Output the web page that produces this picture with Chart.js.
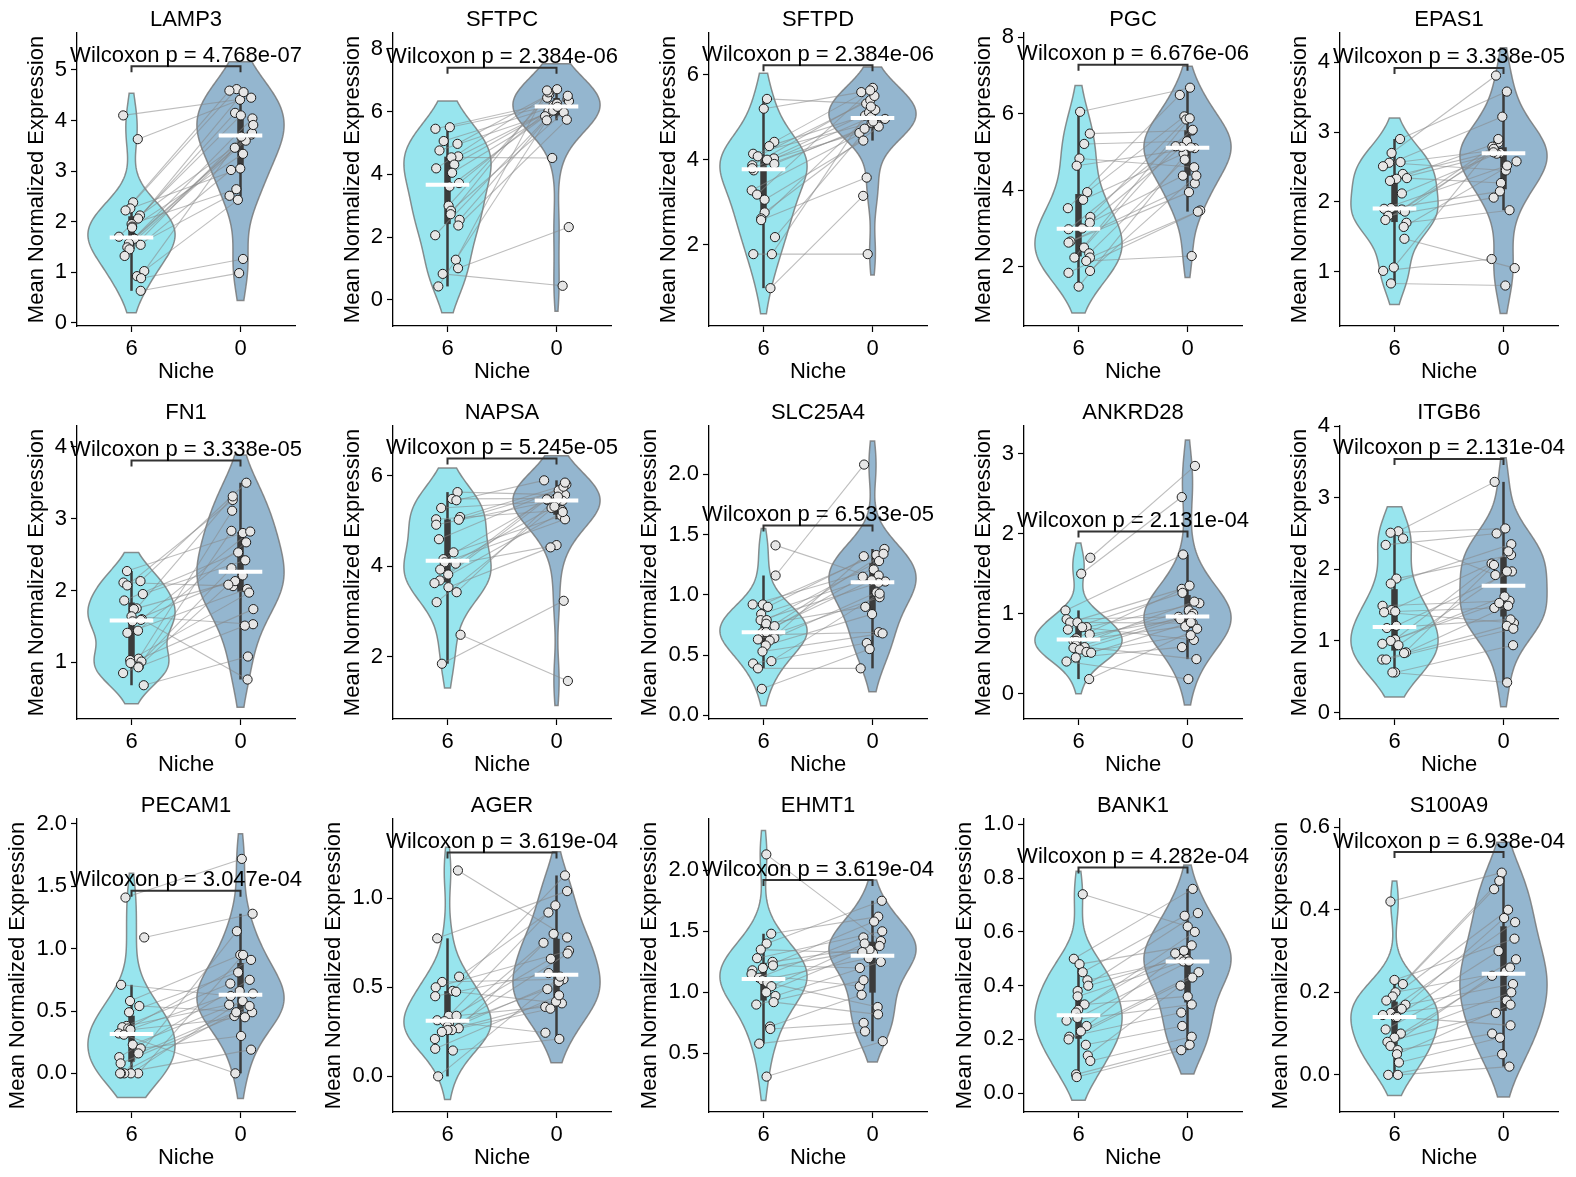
<!DOCTYPE html>
<html>
<head>
<meta charset="utf-8">
<script src="https://cdn.jsdelivr.net/npm/chart.js@4.4.0/dist/chart.umd.min.js"></script>
<style>
  body { margin: 0; background: #fff; width: 1576px; height: 1177px; position: relative; overflow: hidden; }
  canvas { position: absolute; }
</style>
</head>
<body>
<script>
// gene panels, left to right, top to bottom
const genes = ['LAMP3', 'SFTPC', 'SFTPD', 'PGC', 'EPAS1',
               'FN1', 'NAPSA', 'SLC25A4', 'ANKRD28', 'ITGB6',
               'PECAM1', 'AGER', 'EHMT1', 'BANK1', 'S100A9'];
const niches = ['6', '0'];
const pValues = [4.768e-07, 2.384e-06, 2.384e-06, 6.676e-06, 3.338e-05,
                 3.338e-05, 5.245e-05, 6.533e-05, 2.131e-04, 2.131e-04,
                 3.047e-04, 3.619e-04, 3.619e-04, 4.282e-04, 6.938e-04];
// height of the significance bracket
const bracketAt = [5.07, 7.39, 6.22, 7.28, 3.92,
                   3.81, 6.38, 1.575, 2.03, 3.54,
                   1.465, 1.257, 1.92, 0.84, 0.54];
// y axis range and tick step per panel
const yMin = [-0.066, -0.83, 0.09, 0.45, 0.22, 0.21, 0.63, -0.03, -0.32, -0.09, -0.31, -0.20, 0.02, -0.07, -0.09];
const yMax = [5.73, 8.5, 6.98, 8.11, 4.42, 4.29, 7.10, 2.40, 3.35, 4.0, 2.04, 1.445, 2.42, 1.02, 0.62];
const yStep = [1, 2, 2, 2, 1, 1, 2, 0.5, 1, 1, 0.5, 0.5, 0.5, 0.2, 0.2];

// niche 6 values (sample i is paired with sample i of niche 0)
const niche6 = [
  [4.10, 3.63, 2.38, 2.26, 2.22, 2.12, 2.06, 1.95, 1.90, 1.88, 1.70, 1.67, 1.66, 1.57, 1.54, 1.49, 1.45, 1.32, 1.02, 0.92, 0.88, 0.63], // LAMP3
  [5.50, 5.45, 5.06, 4.97, 4.76, 4.57, 4.54, 4.31, 4.19, 4.05, 3.72, 3.61, 3.00, 2.84, 2.73, 2.55, 2.37, 2.06, 1.28, 1.01, 0.83, 0.43], // SFTPC
  [5.43, 5.20, 4.42, 4.32, 4.14, 4.08, 4.03, 4.00, 3.90, 3.87, 3.75, 3.80, 3.28, 3.18, 3.06, 2.76, 2.62, 2.58, 2.18, 1.78, 1.78, 0.98], // SFTPD
  [6.05, 5.48, 5.21, 4.83, 4.64, 3.95, 3.75, 3.53, 3.30, 3.15, 3.00, 2.98, 2.66, 2.63, 2.50, 2.35, 2.24, 2.24, 2.15, 1.89, 1.84, 1.48], // PGC
  [2.90, 2.70, 2.57, 2.56, 2.51, 2.40, 2.34, 2.33, 2.30, 2.12, 1.91, 1.89, 1.90, 1.86, 1.80, 1.74, 1.70, 1.64, 1.47, 1.06, 1.01, 0.83], // EPAS1
  [2.27, 2.13, 2.11, 2.07, 1.95, 1.86, 1.75, 1.74, 1.64, 1.60, 1.59, 1.57, 1.44, 1.41, 1.05, 1.03, 1.01, 0.99, 0.94, 0.93, 0.85, 0.68], // FN1
  [5.64, 5.49, 5.46, 5.29, 5.09, 5.04, 5.03, 4.92, 4.60, 4.31, 4.16, 4.09, 4.06, 3.93, 3.82, 3.69, 3.63, 3.54, 3.43, 3.21, 2.49, 1.85], // NAPSA
  [1.41, 1.16, 0.92, 0.92, 0.90, 0.84, 0.79, 0.79, 0.76, 0.74, 0.69, 0.67, 0.69, 0.64, 0.63, 0.62, 0.58, 0.53, 0.45, 0.43, 0.39, 0.22], // SLC25A4
  [1.70, 1.50, 1.04, 0.93, 0.89, 0.89, 0.83, 0.83, 0.80, 0.74, 0.69, 0.66, 0.66, 0.60, 0.58, 0.57, 0.55, 0.52, 0.51, 0.45, 0.40, 0.18], // ANKRD28
  [2.53, 2.51, 2.43, 2.34, 1.87, 1.80, 1.49, 1.43, 1.41, 1.40, 1.21, 1.18, 1.02, 1.00, 0.96, 0.94, 0.84, 0.83, 0.74, 0.74, 0.56, 0.56], // ITGB6
  [1.41, 1.09, 0.71, 0.58, 0.54, 0.49, 0.38, 0.37, 0.36, 0.35, 0.32, 0.31, 0.23, 0.20, 0.16, 0.13, 0.08, 0.00, 0.00, 0.00, 0.00, 0.00], // PECAM1
  [1.156, 0.775, 0.56, 0.53, 0.50, 0.48, 0.475, 0.45, 0.34, 0.34, 0.30, 0.315, 0.31, 0.28, 0.27, 0.26, 0.26, 0.25, 0.21, 0.155, 0.145, 0.00], // AGER
  [2.13, 1.48, 1.40, 1.35, 1.28, 1.25, 1.22, 1.20, 1.18, 1.15, 1.12, 1.10, 1.08, 1.05, 1.00, 0.97, 0.92, 0.90, 0.72, 0.70, 0.58, 0.31], // EHMT1
  [0.74, 0.50, 0.48, 0.45, 0.42, 0.40, 0.38, 0.36, 0.33, 0.31, 0.30, 0.28, 0.27, 0.25, 0.23, 0.21, 0.20, 0.18, 0.14, 0.12, 0.07, 0.06], // BANK1
  [0.42, 0.23, 0.22, 0.20, 0.19, 0.18, 0.17, 0.16, 0.15, 0.14, 0.145, 0.14, 0.11, 0.10, 0.09, 0.08, 0.07, 0.06, 0.05, 0.03, 0.00, 0.00]  // S100A9
];
// niche 0 values
const niche0 = [
  [4.45, 4.41, 4.62, 3.05, 4.59, 3.72, 4.15, 2.64, 4.56, 3.34, 4.10, 3.46, 3.75, 4.04, 3.02, 3.60, 2.51, 3.91, 3.68, 2.43, 1.26, 0.98], // LAMP3
  [6.19, 6.40, 6.17, 6.55, 5.93, 6.33, 4.52, 6.00, 6.71, 5.85, 6.25, 6.03, 6.44, 5.97, 6.61, 6.15, 5.74, 6.50, 6.67, 2.32, 0.45, 5.72], // SFTPC
  [5.32, 5.59, 5.69, 5.04, 4.87, 5.40, 4.63, 5.11, 4.96, 5.50, 4.73, 5.00, 4.82, 5.63, 4.45, 4.78, 5.17, 3.58, 4.90, 1.78, 5.25, 3.15], // SFTPD
  [6.68, 5.56, 5.28, 4.60, 5.10, 5.93, 4.96, 6.49, 5.85, 4.38, 5.13, 5.58, 4.18, 3.95, 5.15, 4.80, 3.47, 5.88, 2.28, 4.38, 3.44, 5.12], // PGC
  [3.58, 3.81, 2.74, 2.45, 3.22, 2.72, 2.27, 2.85, 2.70, 2.69, 2.15, 2.79, 2.52, 2.76, 2.06, 2.71, 1.88, 2.58, 1.05, 2.90, 1.18, 0.80], // EPAS1
  [2.80, 3.50, 2.06, 3.26, 2.42, 2.53, 3.31, 2.13, 1.53, 0.76, 2.82, 2.21, 2.67, 2.02, 3.11, 1.97, 2.31, 1.74, 2.08, 2.83, 1.51, 1.08], // FN1
  [5.58, 5.50, 5.90, 5.45, 5.81, 5.24, 5.68, 5.46, 5.76, 5.12, 5.47, 5.04, 4.47, 5.29, 5.48, 5.20, 5.85, 4.42, 5.54, 5.32, 1.47, 3.24], // NAPSA
  [1.11, 2.08, 1.33, 1.21, 1.38, 1.16, 1.10, 1.28, 0.90, 1.12, 1.34, 0.69, 1.15, 1.02, 0.98, 1.32, 0.84, 0.68, 1.01, 0.60, 0.39, 0.55], // SLC25A4
  [2.85, 2.46, 1.74, 0.96, 1.31, 0.88, 1.13, 0.67, 1.26, 0.93, 1.35, 0.84, 1.04, 1.15, 0.43, 1.00, 0.97, 0.73, 0.89, 0.58, 0.18, 0.81], // ANKRD28
  [3.22, 2.57, 1.92, 2.50, 2.20, 2.35, 1.56, 2.08, 1.46, 1.25, 1.97, 1.30, 2.25, 1.62, 1.53, 1.97, 1.49, 2.06, 1.21, 1.17, 0.94, 0.42], // ITGB6
  [1.72, 1.28, 0.62, 0.95, 0.49, 0.81, 0.55, 0.72, 0.91, 0.45, 0.66, 0.00, 0.58, 0.30, 0.54, 0.75, 0.46, 0.95, 0.64, 1.14, 0.49, 0.19], // PECAM1
  [0.78, 1.04, 0.92, 0.545, 0.705, 1.128, 0.41, 0.58, 0.96, 0.39, 0.75, 0.245, 0.66, 0.49, 0.80, 0.38, 0.53, 0.42, 0.69, 0.455, 0.21, 0.56], // AGER
  [1.42, 1.62, 1.75, 1.32, 1.50, 1.38, 1.20, 1.58, 1.35, 1.05, 1.45, 1.28, 0.88, 1.40, 1.33, 1.25, 0.82, 1.10, 0.98, 0.75, 0.68, 0.60], // EHMT1
  [0.62, 0.76, 0.55, 0.66, 0.50, 0.50, 0.67, 0.49, 0.36, 0.52, 0.60, 0.49, 0.33, 0.53, 0.45, 0.30, 0.43, 0.25, 0.40, 0.21, 0.18, 0.16], // BANK1
  [0.49, 0.33, 0.45, 0.25, 0.40, 0.47, 0.22, 0.38, 0.18, 0.30, 0.37, 0.12, 0.28, 0.20, 0.26, 0.15, 0.24, 0.10, 0.17, 0.09, 0.05, 0.02]  // S100A9
];

const FONT = "'Liberation Sans', Arial, sans-serif";
const violinFill = ['#98E5EE', '#94B6CF'];
const colLeft = [77, 393, 709, 1024, 1340];
const rowTop = [33, 426, 819];
const PW = 218, PH = 293;       // plot area
const CW = 316, CH = 393;       // canvas per panel
const PAD_L = 77, PAD_T = 33;
const JIT = 0.12;
const TICK_FONT = 22;

// gaussian kde, scott bandwidth, cut = 1 bw
function kde(vals) {
  const n = vals.length;
  const mean = vals.reduce((a, b) => a + b, 0) / n;
  const sd = Math.sqrt(vals.reduce((a, b) => a + (b - mean) ** 2, 0) / (n - 1));
  const bw = sd * Math.pow(n, -0.2);
  const lo = Math.min(...vals) - bw, hi = Math.max(...vals) + bw;
  const out = [];
  for (let i = 0; i <= 150; i++) {
    const y = lo + (hi - lo) * i / 150;
    let d = 0;
    for (const v of vals) d += Math.exp(-0.5 * ((y - v) / bw) ** 2);
    out.push([y, d]);
  }
  const m = Math.max(...out.map(p => p[1]));
  return out.map(p => [p[0], p[1] / m]);
}

function quantile(s, q) {
  const pos = (s.length - 1) * q, b = Math.floor(pos), r = pos - b;
  return s[b + 1] !== undefined ? s[b] + r * (s[b + 1] - s[b]) : s[b];
}

function boxStats(vals) {
  const s = [...vals].sort((a, b) => a - b);
  const q1 = quantile(s, 0.25), q3 = quantile(s, 0.75), med = quantile(s, 0.5);
  const iqr = q3 - q1;
  const lo = s.find(v => v >= q1 - 1.5 * iqr);
  const hi = [...s].reverse().find(v => v <= q3 + 1.5 * iqr);
  return { q1, q3, med, lo, hi };
}

// fixed pseudo-random jitter so the page is the same every time
function jitter(k) {
  const s = Math.sin(k * 12.9898 + 78.233) * 43758.5453;
  return (s - Math.floor(s) - 0.5) * 2;
}

function fmtP(p) {
  const [m, e] = p.toExponential(3).split('e');
  const ei = parseInt(e, 10);
  return m + 'e' + (ei < 0 ? '-' : '+') + String(Math.abs(ei)).padStart(2, '0');
}

const violinPlugin = {
  id: 'violinPanel',
  beforeDatasetsDraw(chart, args, opts) {
    const k = opts.k;
    const { ctx, scales: { x, y } } = chart;
    [niche6[k], niche0[k]].forEach((vals, gi) => {
      const shape = kde(vals);
      ctx.save();
      ctx.beginPath();
      shape.forEach(([v, d], i) => {
        const px = x.getPixelForValue(gi + 0.4 * d), py = y.getPixelForValue(v);
        if (i === 0) ctx.moveTo(px, py); else ctx.lineTo(px, py);
      });
      for (let i = shape.length - 1; i >= 0; i--) {
        const [v, d] = shape[i];
        ctx.lineTo(x.getPixelForValue(gi - 0.4 * d), y.getPixelForValue(v));
      }
      ctx.closePath();
      ctx.fillStyle = violinFill[gi];
      ctx.fill();
      ctx.strokeStyle = 'rgba(115,115,115,0.8)';
      ctx.lineWidth = 1.5;
      ctx.stroke();

      // inner box
      const b = boxStats(vals);
      const cx = x.getPixelForValue(gi);
      ctx.strokeStyle = '#3b3b3b';
      ctx.lineCap = 'butt';
      ctx.lineWidth = 2.5;
      ctx.beginPath();
      ctx.moveTo(cx, y.getPixelForValue(b.lo));
      ctx.lineTo(cx, y.getPixelForValue(b.hi));
      ctx.stroke();
      ctx.lineWidth = 6.5;
      ctx.beginPath();
      ctx.moveTo(cx, y.getPixelForValue(b.q1));
      ctx.lineTo(cx, y.getPixelForValue(b.q3));
      ctx.stroke();
      ctx.restore();
    });
  },
  afterDatasetsDraw(chart, args, opts) {
    const k = opts.k;
    const { ctx, chartArea, scales: { x, y } } = chart;
    ctx.save();
    // medians
    [niche6[k], niche0[k]].forEach((vals, gi) => {
      const b = boxStats(vals);
      const py = y.getPixelForValue(b.med);
      ctx.strokeStyle = '#ffffff';
      ctx.lineWidth = 4;
      ctx.beginPath();
      ctx.moveTo(x.getPixelForValue(gi - 0.2), py);
      ctx.lineTo(x.getPixelForValue(gi + 0.2), py);
      ctx.stroke();
    });
    // bracket
    const by = y.getPixelForValue(bracketAt[k]);
    const x0 = x.getPixelForValue(0), x1 = x.getPixelForValue(1);
    ctx.strokeStyle = '#333333';
    ctx.lineWidth = 2;
    ctx.beginPath();
    ctx.moveTo(x0, by + 6);
    ctx.lineTo(x0, by);
    ctx.lineTo(x1, by);
    ctx.lineTo(x1, by + 6);
    ctx.stroke();
    ctx.fillStyle = '#000';
    ctx.textAlign = 'center';
    ctx.textBaseline = 'alphabetic';
    ctx.font = '22px ' + FONT;
    ctx.fillText('Wilcoxon p = ' + fmtP(pValues[k]), (x0 + x1) / 2, by - 4.5);

    // title and axis labels
    const cxArea = (chartArea.left + chartArea.right) / 2;
    ctx.fillText(genes[k], cxArea, chartArea.top - 7);
    ctx.fillText('Niche', cxArea, chartArea.bottom + 52);

    // y label sits left of the widest tick label
    ctx.font = TICK_FONT + 'px ' + FONT;
    const wMax = Math.max(...y.ticks.map(t => ctx.measureText(String(t.label)).width));
    const labelX = chartArea.left - 6 - 4 - wMax - 12;
    ctx.font = '22px ' + FONT;
    ctx.translate(labelX, (chartArea.top + chartArea.bottom) / 2);
    ctx.rotate(-Math.PI / 2);
    ctx.fillText('Mean Normalized Expression', 0, 0);
    ctx.restore();
  }
};

genes.forEach((gene, k) => {
  const col = k % 5, row = Math.floor(k / 5);
  const cv = document.createElement('canvas');
  cv.width = CW;
  cv.height = CH;
  cv.style.left = (colLeft[col] - PAD_L) + 'px';
  cv.style.top = (rowTop[row] - PAD_T) + 'px';
  document.body.appendChild(cv);

  const pts6 = niche6[k].map((v, i) => ({ x: 0 + JIT * jitter(k * 100 + i), y: v }));
  const pts0 = niche0[k].map((v, i) => ({ x: 1 + JIT * jitter(k * 100 + 50 + i), y: v }));

  const pairSets = pts6.map((p, i) => ({
    data: [p, pts0[i]],
    showLine: true,
    pointRadius: 0,
    borderColor: 'rgba(135,135,135,0.55)',
    borderWidth: 1.1,
    order: 2
  }));

  const decimals = yStep[k] < 1 ? 1 : 0;
  const step = yStep[k];

  new Chart(cv, {
    type: 'scatter',
    data: {
      datasets: [
        ...pairSets,
        {
          data: pts6.concat(pts0),
          pointRadius: 4.6,
          pointBackgroundColor: '#e6e6e6',
          pointBorderColor: '#1e1e1e',
          pointBorderWidth: 1,
          order: 1
        }
      ]
    },
    options: {
      responsive: false,
      devicePixelRatio: 1,
      animation: false,
      events: [],
      layout: { padding: { left: 0, top: PAD_T, right: CW - PAD_L - PW, bottom: 0 } },
      plugins: {
        legend: { display: false },
        title: { display: false },
        tooltip: { enabled: false },
        violinPanel: { k: k }
      },
      scales: {
        x: {
          type: 'linear',
          min: -0.5,
          max: 1.5,
          afterFit: s => { s.height = CH - PAD_T - PH; },
          afterBuildTicks: s => { s.ticks = [{ value: 0 }, { value: 1 }]; },
          ticks: {
            callback: v => (v === 0 ? niches[0] : niches[1]),
            font: { family: FONT, size: TICK_FONT },
            color: '#000',
            padding: 4,
            maxRotation: 0
          },
          grid: { display: true, drawOnChartArea: false, drawTicks: true, tickLength: 6, color: '#000', tickColor: '#000', tickWidth: 1.2 },
          border: { display: true, color: '#000', width: 1.3 }
        },
        y: {
          type: 'linear',
          min: yMin[k],
          max: yMax[k],
          afterFit: s => { s.width = PAD_L; },
          afterBuildTicks: s => {
            const t = [];
            for (let v = Math.ceil((s.min - 1e-9) / step) * step; v <= s.max + 1e-9; v += step) {
              t.push({ value: Math.round(v * 1000) / 1000 });
            }
            s.ticks = t;
          },
          ticks: {
            callback: v => v.toFixed(decimals),
            font: { family: FONT, size: TICK_FONT },
            color: '#000',
            padding: 4
          },
          grid: { display: true, drawOnChartArea: false, drawTicks: true, tickLength: 6, color: '#000', tickColor: '#000', tickWidth: 1.2 },
          border: { display: true, color: '#000', width: 1.3 }
        }
      }
    },
    plugins: [violinPlugin]
  });
});
</script>
</body>
</html>
